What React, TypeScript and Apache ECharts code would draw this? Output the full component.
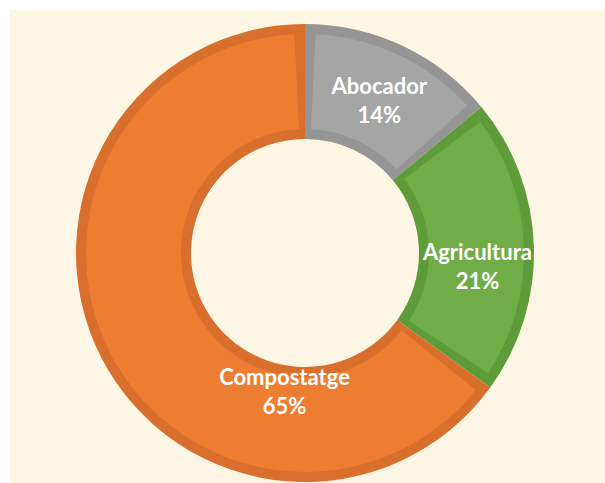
import React, { useEffect, useRef } from "react";
import * as echarts from "echarts";

const categories = ["Abocador", "Agricultura", "Compostatge"];
const values = [14, 21, 65];
const fillColors = ["#A5A5A5", "#70AD47", "#ED7D31"];
const borderColors = ["#959595", "#5E9C39", "#D86F2C"];
const labelOffsets: [number, number][] = [[0, 5], [-2, 18], [135, 59]];

export default function App() {
  const ref = useRef<HTMLDivElement>(null);
  useEffect(() => {
    if (!ref.current) return;
    const chart = echarts.init(ref.current, null, { renderer: "svg" });
    const center = [295, 243];
    chart.setOption({
      animation: false,
      backgroundColor: "#FEF6E5",
      series: [
        {
          type: "pie",
          silent: true,
          center,
          radius: [114, 229],
          startAngle: 90,
          clockwise: true,
          label: { show: false },
          labelLine: { show: false },
          data: categories.map((c, i) => ({
            name: c,
            value: values[i],
            itemStyle: { color: borderColors[i] },
          })),
        },
        {
          type: "pie",
          silent: true,
          center,
          radius: [124, 219],
          startAngle: 90,
          clockwise: true,
          padAngle: 5.5,
          label: {
            show: true,
            position: "inside",
            rotate: 0,
            formatter: "{b}\n{d}%",
            color: "#FFFFFF",
            fontFamily: "Lato",
            fontWeight: "bold",
            fontSize: 22,
            lineHeight: 29,
            align: "center",
          },
          labelLine: { show: false },
          labelLayout: (p: any) => ({
            dx: labelOffsets[p.dataIndex][0],
            dy: labelOffsets[p.dataIndex][1],
          }),
          data: categories.map((c, i) => ({
            name: c,
            value: values[i],
            itemStyle: { color: fillColors[i] },
          })),
        },
      ],
    });
    return () => chart.dispose();
  }, []);
  return (
    <div style={{ position: "fixed", left: 0, top: 0, width: 605, height: 483, background: "#FFFFFF" }}>
      <div ref={ref} style={{ position: "absolute", left: 10, top: 10, width: 595, height: 473 }} />
    </div>
  );
}
